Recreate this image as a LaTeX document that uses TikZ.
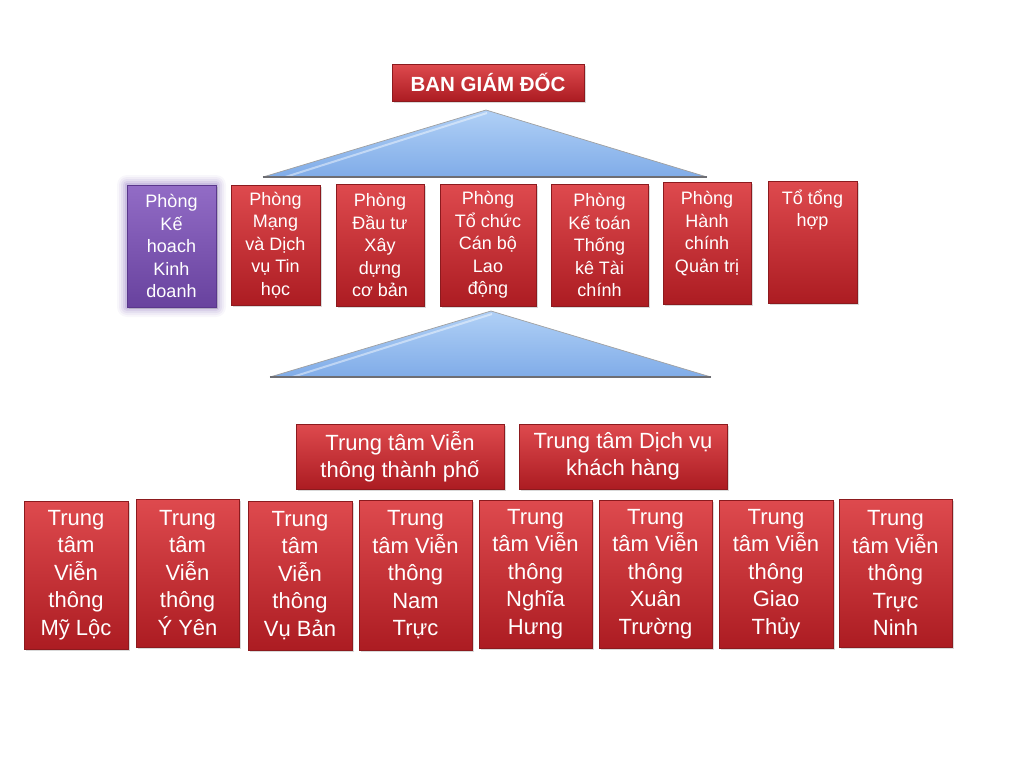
\documentclass[tikz,border=0pt]{standalone}
\usepackage{fontspec}
\setmainfont{Liberation Sans}
\usetikzlibrary{shadows}
\pgfdeclarelayer{background}
\pgfsetlayers{background,main}
\definecolor{rtop}{RGB}{222,74,78}
\definecolor{rmid}{RGB}{202,46,51}
\definecolor{rbot}{RGB}{172,28,34}
\definecolor{rdraw}{RGB}{140,26,30}
\definecolor{ptop}{RGB}{146,108,198}
\definecolor{pmid}{RGB}{124,86,178}
\definecolor{pbot}{RGB}{104,66,158}
\definecolor{pdraw}{RGB}{90,55,140}
\definecolor{pglow}{RGB}{140,115,190}
\definecolor{btop}{RGB}{176,208,246}
\definecolor{bbot}{RGB}{128,172,232}
\definecolor{tedge}{RGB}{160,160,160}
\definecolor{tbase}{RGB}{110,110,115}
\tikzset{
  box/.style={rectangle, inner sep=0pt, outer sep=0pt, text=white, align=center,
    draw=rdraw, line width=0.6pt, top color=rtop, middle color=rmid, bottom color=rbot,
    drop shadow={opacity=0.3, shadow xshift=1.5pt, shadow yshift=-2pt}},
  pbox/.style={box, draw=pdraw, top color=ptop, middle color=pmid, bottom color=pbot},
  ftop/.style={font=\fontsize{20.5}{24}\selectfont\bfseries},
  fdep/.style={font=\fontsize{18}{22.5}\selectfont},
  fctr/.style={font=\fontsize{22}{27.5}\selectfont},
  tri/.style={top color=btop, bottom color=bbot},
  triedge/.style={draw=tedge, line width=0.7pt},
  tribase/.style={draw=tbase, line width=1.3pt},
  trihl/.style={white, opacity=0.45, line width=2pt},
}
\newcommand\orgbox[7]{\node[#2, anchor=north west, minimum width=#5pt, minimum height=#6pt] (#1) at (#3,#4) {#7};}
\begin{document}
\begin{tikzpicture}[x=1pt,y=-1pt]
\useasboundingbox (0,0) rectangle (1024,768);

% top
\orgbox{bgd}{box,ftop}{392}{64}{192}{37}{BAN GIÁM ĐỐC}

% triangle 1
\coordinate (t1a) at (486,110);
\coordinate (t1l) at (263,177);
\coordinate (t1r) at (707,177);
\shade[tri] (t1a) -- (t1l) -- (t1r) -- cycle;
\draw[trihl] ([xshift=1pt,yshift=-3pt]t1a) -- ([xshift=16pt,yshift=-2pt]t1l);
\draw[triedge] (t1l) -- (t1a) -- (t1r);
\draw[tribase] (t1l) -- (t1r);

% departments
\orgbox{p1}{pbox,fdep}{127}{185}{89}{122}{Phòng\\Kế\\hoach\\Kinh\\doanh}
\orgbox{p2}{box,fdep}{231}{185}{89}{120}{Phòng\\Mạng\\và Dịch\\vụ Tin\\học}
\orgbox{p3}{box,fdep}{336}{184}{88}{122}{Phòng\\Đầu tư\\Xây\\dựng\\cơ bản}
\orgbox{p4}{box,fdep}{440}{184}{96}{122}{Phòng\\Tổ chức\\Cán bộ\\Lao\\động}
\orgbox{p5}{box,fdep}{551}{184}{97}{122}{Phòng\\Kế toán\\Thống\\kê Tài\\chính}
\orgbox{p6}{box,fdep}{663}{182}{88}{122}{Phòng\\Hành\\chính\\Quản trị\\\mbox{}}
\orgbox{p7}{box,fdep}{768}{181}{89}{122}{Tổ tổng\\hợp\\\mbox{}\\\mbox{}\\\mbox{}}

\begin{pgfonlayer}{background}
\foreach \s/\o in {10/0.06,8/0.08,6/0.1,4/0.14,2/0.2}
  \fill[pglow, opacity=\o, rounded corners=\s pt]
    ([shift={(-\s pt,\s pt)}]p1.north west) rectangle ([shift={(\s pt,-\s pt)}]p1.south east);
\end{pgfonlayer}

% triangle 2
\coordinate (t2a) at (491,311);
\coordinate (t2l) at (270,377);
\coordinate (t2r) at (711,377);
\shade[tri] (t2a) -- (t2l) -- (t2r) -- cycle;
\draw[trihl] ([xshift=1pt,yshift=-3pt]t2a) -- ([xshift=16pt,yshift=-2pt]t2l);
\draw[triedge] (t2l) -- (t2a) -- (t2r);
\draw[tribase] (t2l) -- (t2r);

% centres
\orgbox{r1}{box,fctr}{296}{424}{208}{65}{Trung tâm Viễn\\thông thành phố}
\orgbox{r2}{box,fctr}{519}{424}{208}{65}{Trung tâm Dịch vụ\\khách hàng}

\orgbox{b1}{box,fctr}{24}{501}{104}{148}{Trung\\tâm\\Viễn\\thông\\Mỹ Lộc}
\orgbox{b2}{box,fctr}{136}{499}{103}{148}{Trung\\tâm\\Viễn\\thông\\Ý Yên}
\orgbox{b3}{box,fctr}{248}{501}{104}{149}{Trung\\tâm\\Viễn\\thông\\Vụ Bản}
\orgbox{b4}{box,fctr}{359}{500}{113}{150}{Trung\\tâm Viễn\\thông\\Nam\\Trực}
\orgbox{b5}{box,fctr}{479}{500}{113}{148}{Trung\\tâm Viễn\\thông\\Nghĩa\\Hưng}
\orgbox{b6}{box,fctr}{599}{500}{113}{148}{Trung\\tâm Viễn\\thông\\Xuân\\Trường}
\orgbox{b7}{box,fctr}{719}{500}{114}{148}{Trung\\tâm Viễn\\thông\\Giao\\Thủy}
\orgbox{b8}{box,fctr}{839}{499}{113}{148}{Trung\\tâm Viễn\\thông\\Trực\\Ninh}
\end{tikzpicture}
\end{document}
